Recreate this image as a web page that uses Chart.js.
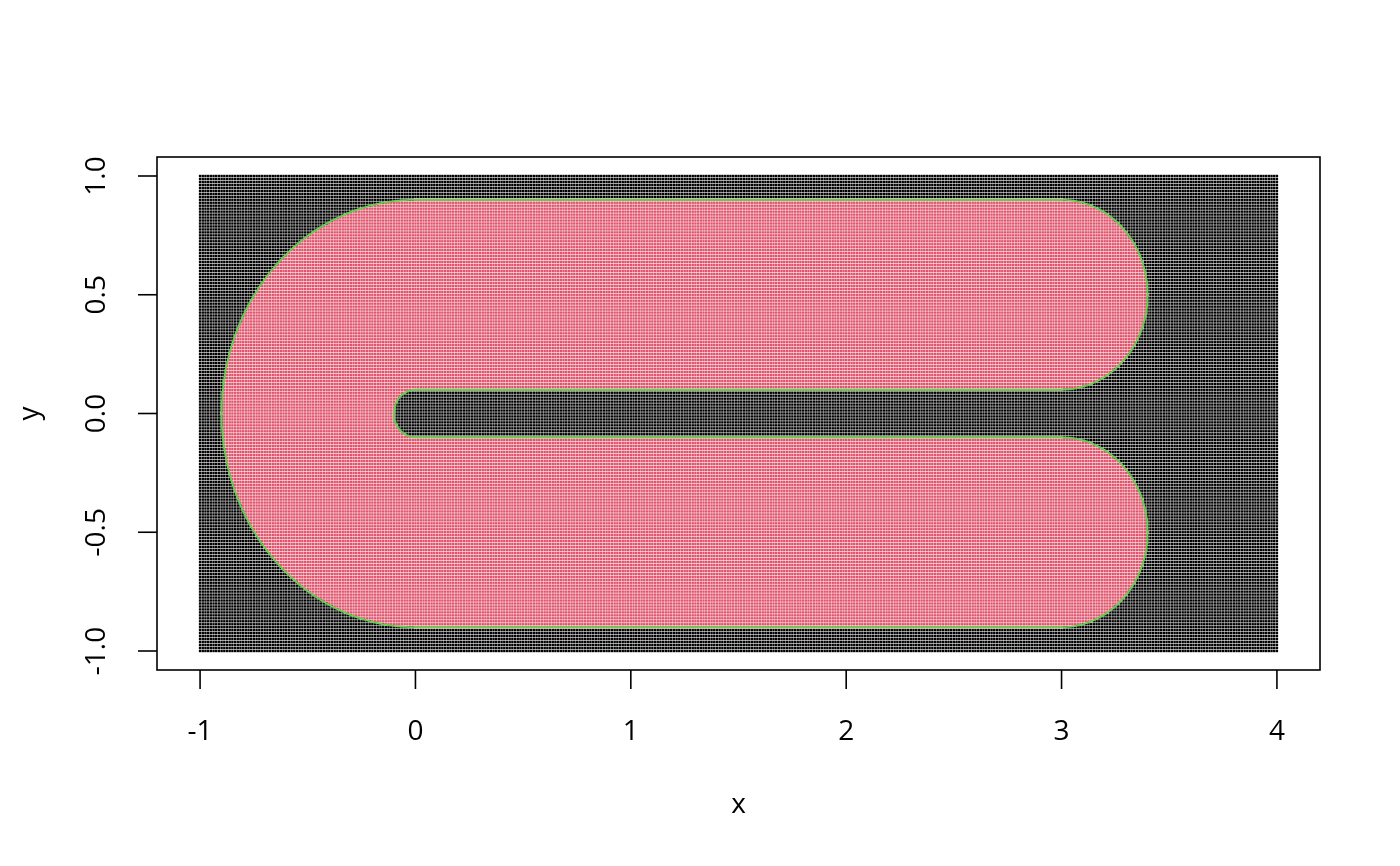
<!DOCTYPE html>
<html>
<head>
<meta charset="utf-8">
<script src="https://cdn.jsdelivr.net/npm/chart.js@4.4.1/dist/chart.umd.min.js"></script>
<style>
  html, body { margin: 0; background: #fff; }
  #wrap { width: 1400px; height: 866px; }
</style>
</head>
<body>
<div id="wrap"><canvas id="c"></canvas></div>
<script>
// axis ticks
const xTicks = [-1, 0, 1, 2, 3, 4];
const xTickLabels = ['-1', '0', '1', '2', '3', '4'];
const yTicks = [-1, -0.5, 0, 0.5, 1];
const yTickLabels = ['-1.0', '-0.5', '0.0', '0.5', '1.0'];

// point grid: [from, to, by]
const gridX = [-1, 4, 0.0125];
const gridY = [-1, 1, 0.0125];

// the band: centre line = two straight runs joined on the left by a half circle
const bandRuns = [[0, 3, 0.5], [0, 3, -0.5]];   // x from, x to, y
const bandBend = [0, 0, 0.5];                    // cx, cy, r (left half only)
const bandHalfWidth = 0.4;

// outline: arcs [cx, cy, r, fromDeg, toDeg], consecutive arcs joined by straight lines
const outlineArcs = [
  [0, 0, 0.9, 90, 270],
  [3, -0.5, 0.4, -90, 90],
  [0, 0, 0.1, 270, 90],
  [3, 0.5, 0.4, -90, 90]
];

const colInside = '#DF536B';
const colOutside = '#000000';
const colOutline = '#61D04F';

function seq(g) {
  const n = Math.round((g[1] - g[0]) / g[2]);
  const out = [];
  for (let i = 0; i <= n; i++) out.push(+(g[0] + i * g[2]).toFixed(6));
  return out;
}

function distToBand(x, y) {
  let d = Infinity;
  bandRuns.forEach(r => {
    const cx = Math.min(Math.max(x, r[0]), r[1]);
    d = Math.min(d, Math.hypot(x - cx, y - r[2]));
  });
  if (x < bandBend[0]) {
    d = Math.min(d, Math.abs(Math.hypot(x - bandBend[0], y - bandBend[1]) - bandBend[2]));
  }
  return d;
}

const inside = [], outside = [];
const xs = seq(gridX), ys = seq(gridY);
xs.forEach(x => ys.forEach(y => {
  (distToBand(x, y) <= bandHalfWidth ? inside : outside).push({ x, y });
}));

const outline = [];
outlineArcs.forEach(a => {
  const steps = Math.max(20, Math.round(a[2] * 200));
  for (let i = 0; i <= steps; i++) {
    const t = (a[3] + (a[4] - a[3]) * i / steps) * Math.PI / 180;
    outline.push({ x: a[0] + a[2] * Math.cos(t), y: a[1] + a[2] * Math.sin(t) });
  }
});
outline.push(outline[0]);

const FONT = '"Open Sans", "Noto Sans", sans-serif';

const rAxes = {
  id: 'rAxes',
  afterDraw(chart) {
    const ctx = chart.ctx;
    const a = chart.chartArea;
    const sx = chart.scales.x, sy = chart.scales.y;
    ctx.save();
    ctx.strokeStyle = '#000';
    ctx.fillStyle = '#000';
    ctx.lineWidth = 1.6;
    ctx.strokeRect(a.left, a.top, a.right - a.left, a.bottom - a.top);

    ctx.font = '28px ' + FONT;
    ctx.textAlign = 'center';
    ctx.textBaseline = 'alphabetic';
    xTicks.forEach((v, i) => {
      const px = sx.getPixelForValue(v);
      ctx.beginPath();
      ctx.moveTo(px, a.bottom);
      ctx.lineTo(px, a.bottom + 19);
      ctx.stroke();
      ctx.fillText(xTickLabels[i], px, 740);
    });
    yTicks.forEach((v, i) => {
      const py = sy.getPixelForValue(v);
      ctx.beginPath();
      ctx.moveTo(a.left, py);
      ctx.lineTo(a.left - 19, py);
      ctx.stroke();
      ctx.save();
      ctx.translate(105, py);
      ctx.rotate(-Math.PI / 2);
      ctx.fillText(yTickLabels[i], 0, 0);
      ctx.restore();
    });

    ctx.fillText('x', (a.left + a.right) / 2, 813);
    ctx.save();
    ctx.translate(38, (a.top + a.bottom) / 2);
    ctx.rotate(-Math.PI / 2);
    ctx.fillText('y', 0, 0);
    ctx.restore();
    ctx.restore();
  }
};

new Chart(document.getElementById('c'), {
  type: 'scatter',
  data: {
    datasets: [
      {
        data: outline,
        showLine: true,
        borderColor: colOutline,
        borderWidth: 1.8,
        pointRadius: 0,
        fill: false,
        tension: 0
      },
      {
        data: inside,
        pointStyle: 'rect',
        pointRadius: 1.7,
        borderWidth: 0,
        backgroundColor: colInside
      },
      {
        data: outside,
        pointStyle: 'rect',
        pointRadius: 1.7,
        borderWidth: 0,
        backgroundColor: colOutside
      }
    ]
  },
  options: {
    responsive: true,
    maintainAspectRatio: false,
    animation: false,
    events: [],
    layout: { autoPadding: false, padding: { left: 157, top: 157, right: 80, bottom: 196 } },
    plugins: { legend: { display: false }, tooltip: { enabled: false } },
    scales: {
      x: { type: 'linear', min: -1.2, max: 4.2, display: false },
      y: { type: 'linear', min: -1.08, max: 1.08, display: false }
    }
  },
  plugins: [rAxes]
});
</script>
</body>
</html>
